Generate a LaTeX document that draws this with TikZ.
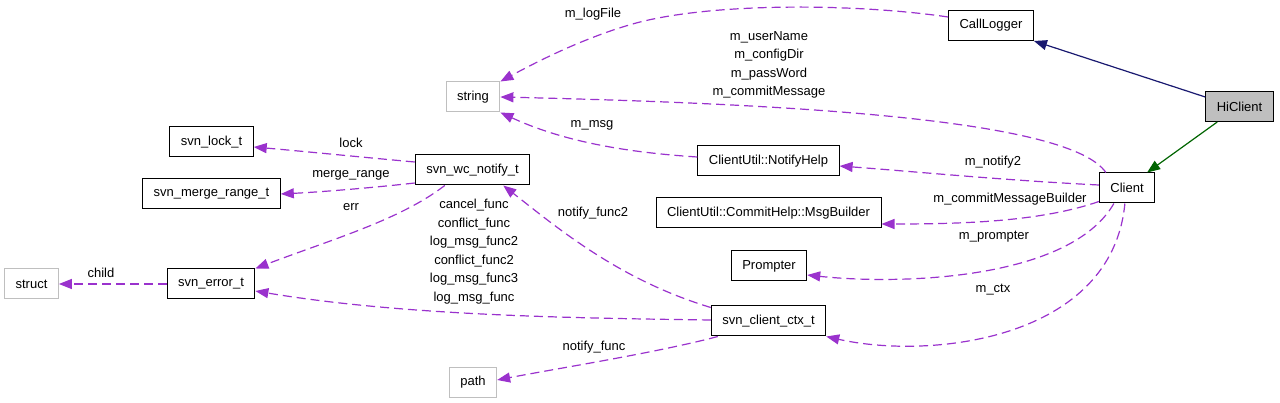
\documentclass[tikz,border=0pt]{standalone}
\usepackage{fontspec}
\setmainfont{Liberation Sans}
\usetikzlibrary{arrows.meta}
\definecolor{orchid}{HTML}{9A32CD}
\definecolor{navyline}{HTML}{191970}
\definecolor{greenline}{HTML}{006400}
\definecolor{greybox}{HTML}{BFBFBF}

\begin{document}
\begin{tikzpicture}[x=1pt,y=-1pt,font=\fontsize{13}{18.5}\selectfont,
  cls/.style={draw=black,line width=1pt,fill=white,minimum height=30pt,inner xsep=11pt},
  ext/.style={cls,draw=greybox},
  uses/.style={draw=orchid,line width=1.2pt,dash pattern=on 9pt off 5pt,
    -{Triangle[length=13pt,width=10pt,fill=orchid]}},
  lbl/.style={inner sep=1pt,align=center}]

\useasboundingbox (0,0) rectangle (1280,403);

\node[cls,fill=greybox] (hiclient) at (1239.5,106.5) {HiClient};
\node[cls] (calllogger) at (991,25.5) {CallLogger};
\node[cls] (client) at (1127,188) {Client};
\node[ext] (string) at (473,97) {string};
\node[cls] (notifyhelp) at (768.5,161) {ClientUtil::NotifyHelp};
\node[cls] (msgbuilder) at (768.5,213) {ClientUtil::CommitHelp::MsgBuilder};
\node[cls] (prompter) at (769,266) {Prompter};
\node[cls] (ctx) at (768.5,321) {svn\_client\_ctx\_t};
\node[cls] (wcnotify) at (472.5,170) {svn\_wc\_notify\_t};
\node[cls] (lock) at (211.5,142) {svn\_lock\_t};
\node[cls] (merge) at (211.5,194) {svn\_merge\_range\_t};
\node[cls] (errt) at (211,284) {svn\_error\_t};
\node[ext] (struct) at (31.5,284) {struct};
\node[ext] (path) at (473,382) {path};

\draw[navyline,line width=1.2pt,-{Triangle[length=13pt,width=10pt]}]
  ([yshift=9.5pt]hiclient.west) -- (calllogger.south east);
\draw[greenline,line width=1.2pt,-{Triangle[length=13pt,width=10pt]}]
  ([xshift=12pt]hiclient.south west) -- ([xshift=-8pt]client.north east);

\draw[uses] ([yshift=-7pt]calllogger.north west) .. controls (860,4) and (720,2) .. (640,22)
  .. controls (590,35) and (540,60) .. (string.north east);
\draw[uses] ([xshift=7pt]client.north west) .. controls (1070,120) and (800,104) .. (string.east);
\draw[uses] ([yshift=4pt]notifyhelp.west) .. controls (620,152) and (560,140) .. (string.south east);
\draw[uses] ([yshift=3pt]client.west) .. controls (1000,180) and (920,172) .. ([yshift=-5pt]notifyhelp.east);
\draw[uses] ([yshift=2pt]client.south west) .. controls (1040,222) and (960,224) .. ([yshift=-11pt]msgbuilder.east);
\draw[uses] ([xshift=15pt]client.south west) .. controls (1070,280) and (900,285) .. ([yshift=-9pt]prompter.east);
\draw[uses] ([xshift=26pt]client.south west) .. controls (1112,340) and (930,360) .. (ctx.south east);
\draw[uses] ([yshift=-2pt]ctx.north west) .. controls (620,280) and (560,230) .. ([xshift=-27pt]wcnotify.south east);
\draw[uses] ([yshift=1pt]ctx.west) .. controls (560,318) and (400,315) .. ([yshift=-7pt]errt.east);
\draw[uses] ([xshift=7pt]ctx.south west) .. controls (660,352) and (560,368) .. ([yshift=2pt]path.east);
\draw[uses] ([yshift=8pt]wcnotify.west) .. controls (360,157) and (300,151) .. ([yshift=-5pt]lock.east);
\draw[uses] ([yshift=-13pt]wcnotify.west) .. controls (370,188) and (320,192) .. (merge.east);
\draw[uses] ([xshift=30pt]wcnotify.south west) .. controls (400,220) and (330,240) .. (errt.north east);
\draw[uses] (errt.west) -- (struct.east);

\node[lbl] (l-logfile) at (593,14) {m\_logFile};
\node[lbl] (l-strings) at (769,65) {m\_userName\\m\_configDir\\m\_passWord\\m\_commitMessage};
\node[lbl] (l-msg) at (592,125) {m\_msg};
\node[lbl] (l-notify2) at (993,162) {m\_notify2};
\node[lbl] (l-builder) at (1010,199) {m\_commitMessageBuilder};
\node[lbl] (l-prompter) at (994,237) {m\_prompter};
\node[lbl] (l-ctx) at (993,290) {m\_ctx};
\node[lbl] (l-lock) at (351,143) {lock};
\node[lbl] (l-merge) at (351,175) {merge\_range};
\node[lbl] (l-err) at (351,207) {err};
\node[lbl] (l-child) at (101,273) {child};
\node[lbl] (l-funcs) at (474,251.5) {cancel\_func\\conflict\_func\\log\_msg\_func2\\conflict\_func2\\log\_msg\_func3\\log\_msg\_func};
\node[lbl] (l-notifyfunc2) at (593,213) {notify\_func2};
\node[lbl] (l-notifyfunc) at (594,347) {notify\_func};
\end{tikzpicture}
\end{document}
